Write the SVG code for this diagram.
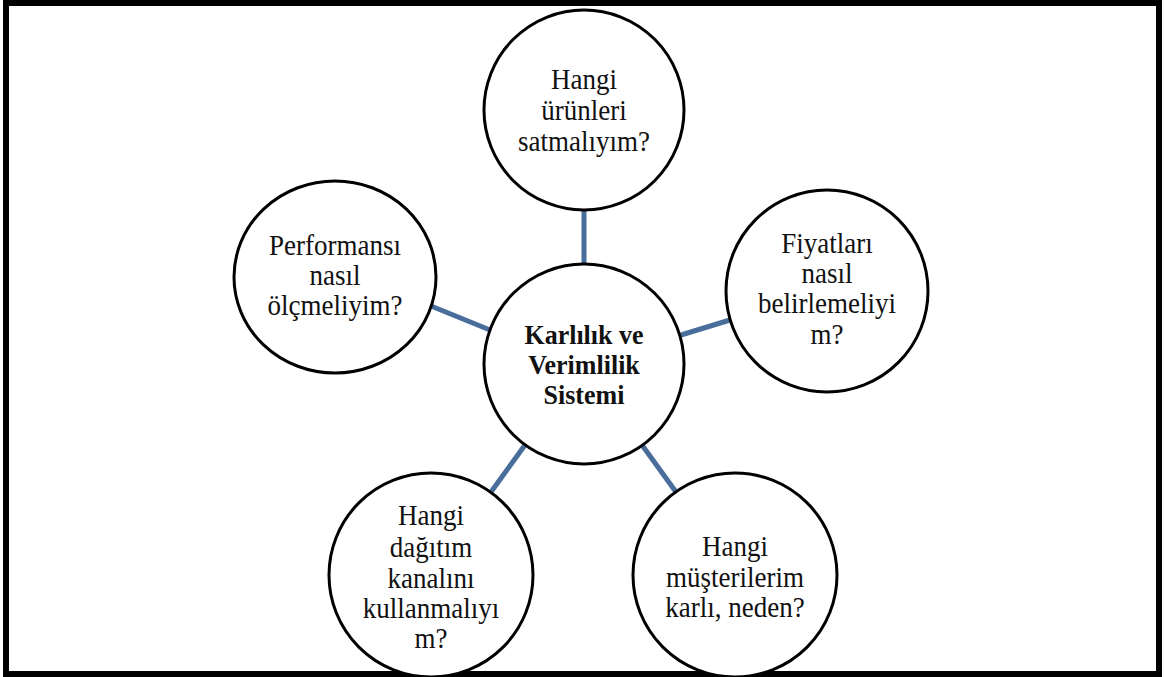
<svg xmlns="http://www.w3.org/2000/svg" width="1166" height="677" viewBox="0 0 1166 677">
  <style>
    .node circle, .node ellipse { fill: #ffffff; stroke: #000000; stroke-width: 3; }
    .node text { font-family: "Liberation Serif", "Times New Roman", serif; font-size: 27px; fill: #111111; text-anchor: middle;
                 transform-box: fill-box; transform-origin: center; transform: scaleY(1.08); }
    .node.hub text { font-weight: bold; font-size: 26px; }
    .link { stroke: #4a6e9b; stroke-width: 5; stroke-linecap: butt; }
  </style>

  <!-- page frame -->
  <rect x="0" y="0" width="1166" height="677" fill="#ffffff"/>
  <rect x="6" y="3" width="1153" height="671" fill="none" stroke="#000000" stroke-width="6"/>

  <!-- spokes from the hub to each question -->
  <g id="connectors">
    <line class="link" x1="584" y1="210" x2="584" y2="264"/>
    <line class="link" x1="431" y1="306" x2="490" y2="330"/>
    <line class="link" x1="681" y1="335" x2="730" y2="320"/>
    <line class="link" x1="525" y1="445" x2="491" y2="492"/>
    <line class="link" x1="642" y1="445" x2="676" y2="492"/>
  </g>

  <g id="hub" class="node hub">
    <circle cx="584" cy="364" r="100"/>
    <text x="584" y="343">Karlılık ve</text>
    <text x="584" y="373">Verimlilik</text>
    <text x="584" y="403">Sistemi</text>
  </g>

  <g id="products" class="node">
    <circle cx="584" cy="110" r="100"/>
    <text x="584" y="88">Hangi</text>
    <text x="584" y="119">ürünleri</text>
    <text x="584" y="150">satmalıyım?</text>
  </g>

  <g id="pricing" class="node">
    <circle cx="827" cy="291" r="101"/>
    <text x="827" y="252">Fiyatları</text>
    <text x="827" y="282">nasıl</text>
    <text x="827" y="312">belirlemeliyi</text>
    <text x="827" y="343">m?</text>
  </g>

  <g id="performance" class="node">
    <ellipse cx="335" cy="277" rx="101" ry="96"/>
    <text x="335" y="254">Performansı</text>
    <text x="335" y="284">nasıl</text>
    <text x="335" y="314">ölçmeliyim?</text>
  </g>

  <g id="channels" class="node">
    <circle cx="431" cy="575" r="102"/>
    <text x="431" y="524">Hangi</text>
    <text x="431" y="556">dağıtım</text>
    <text x="431" y="587">kanalını</text>
    <text x="431" y="617">kullanmalıyı</text>
    <text x="431" y="647">m?</text>
  </g>

  <g id="customers" class="node">
    <circle cx="735" cy="575" r="102"/>
    <text x="735" y="555">Hangi</text>
    <text x="735" y="586">müşterilerim</text>
    <text x="735" y="616">karlı, neden?</text>
  </g>
</svg>
